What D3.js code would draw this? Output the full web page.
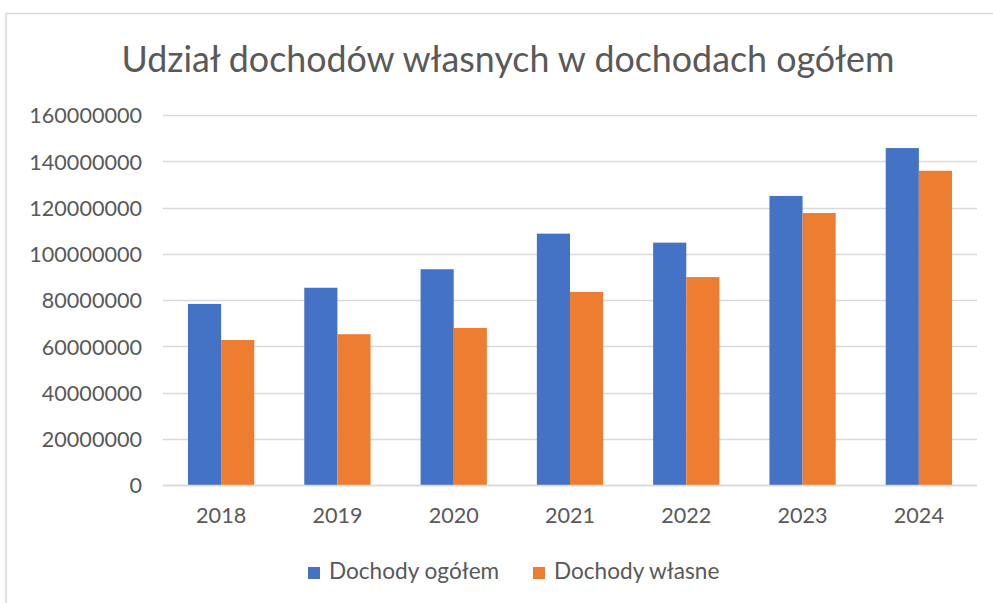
<!DOCTYPE html>
<html>
<head>
<meta charset="utf-8">
<script src="https://cdn.jsdelivr.net/npm/d3@7"></script>
<style>
  html, body { margin: 0; padding: 0; background: #fff; }
  svg { display: block; }
  text { font-family: Lato, "Open Sans", sans-serif; fill: #595959; }
</style>
</head>
<body>
<svg id="chart" width="993" height="603"></svg>
<script>
const title = "Udział dochodów własnych w dochodach ogółem";
const years = ["2018", "2019", "2020", "2021", "2022", "2023", "2024"];
const seriesNames = ["Dochody ogółem", "Dochody własne"];
const dochodyOgolem = [78300000, 85300000, 93300000, 108700000, 104800000, 125000000, 145700000];
const dochodyWlasne = [62700000, 65200000, 67900000, 83500000, 89900000, 117600000, 135900000];
const yTicks = [0, 20000000, 40000000, 60000000, 80000000, 100000000, 120000000, 140000000, 160000000];
const colors = ["#4472C4", "#ED7D31"];

const svg = d3.select("#chart");
const W = 993, H = 603;

// frame
svg.append("path")
  .attr("d", `M6,${H} L6,13.5 L${W},13.5`)
  .attr("fill", "none").attr("stroke", "#D9D9D9").attr("stroke-width", 1.5);

const margin = { left: 163, right: 16, top: 115, bottom: 118 };
const x0 = d3.scaleBand().domain(years).range([margin.left, W - margin.right]).paddingInner(0.43).paddingOuter(0.215);
const x1 = d3.scaleBand().domain([0, 1]).range([0, x0.bandwidth()]);
const y = d3.scaleLinear().domain([0, 160000000]).range([H - margin.bottom, margin.top]);

// gridlines
svg.append("g").selectAll("line").data(yTicks).join("line")
  .attr("x1", margin.left).attr("x2", W - margin.right)
  .attr("y1", d => Math.round(y(d)) + 0.5).attr("y2", d => Math.round(y(d)) + 0.5)
  .attr("stroke", "#D9D9D9").attr("stroke-width", 1.5);

// y axis labels
const yAxis = d3.axisLeft(y).tickValues(yTicks).tickFormat(d3.format("d")).tickSize(0).tickPadding(0);
const yg = svg.append("g").attr("transform", `translate(142,0)`).call(yAxis);
yg.select(".domain").remove();
yg.selectAll("text").attr("font-size", 21.6).attr("fill", "#595959").attr("font-family", "Lato").attr("dy", "0.36em");

// bars
const data = years.map((yr, i) => ({ yr, vals: [dochodyOgolem[i], dochodyWlasne[i]] }));
const groups = svg.append("g").selectAll("g").data(data).join("g")
  .attr("transform", d => `translate(${x0(d.yr)},0)`);
groups.selectAll("rect").data(d => d.vals.map((v, k) => ({ v, k }))).join("rect")
  .attr("x", d => x1(d.k)).attr("width", x1.bandwidth())
  .attr("y", d => y(d.v)).attr("height", d => y(0) - y(d.v))
  .attr("fill", d => colors[d.k]);

// baseline axis
svg.append("line")
  .attr("x1", margin.left).attr("x2", W - margin.right)
  .attr("y1", Math.round(y(0)) + 0.5).attr("y2", Math.round(y(0)) + 0.5)
  .attr("stroke", "#D9D9D9").attr("stroke-width", 1.5);

// x axis labels
const xAxis = d3.axisBottom(x0).tickSize(0).tickPadding(0);
const xg = svg.append("g").attr("transform", `translate(0,523)`).call(xAxis);
xg.select(".domain").remove();
xg.selectAll("text").attr("font-size", 21.6).attr("fill", "#595959").attr("font-family", "Lato").attr("dy", 0);

// title
svg.append("text").attr("x", 508).attr("y", 72).attr("text-anchor", "middle")
  .attr("font-size", 35.8).text(title);

// legend
const legendItems = [
  { name: seriesNames[0], color: colors[0], x: 308 },
  { name: seriesNames[1], color: colors[1], x: 533 }
];
const lg = svg.append("g").selectAll("g").data(legendItems).join("g")
  .attr("transform", d => `translate(${d.x},567)`);
lg.append("rect").attr("width", 12).attr("height", 12).attr("fill", d => d.color);
lg.append("text").attr("x", 21).attr("y", 11.5).attr("font-size", 22.6).text(d => d.name);
</script>
</body>
</html>
